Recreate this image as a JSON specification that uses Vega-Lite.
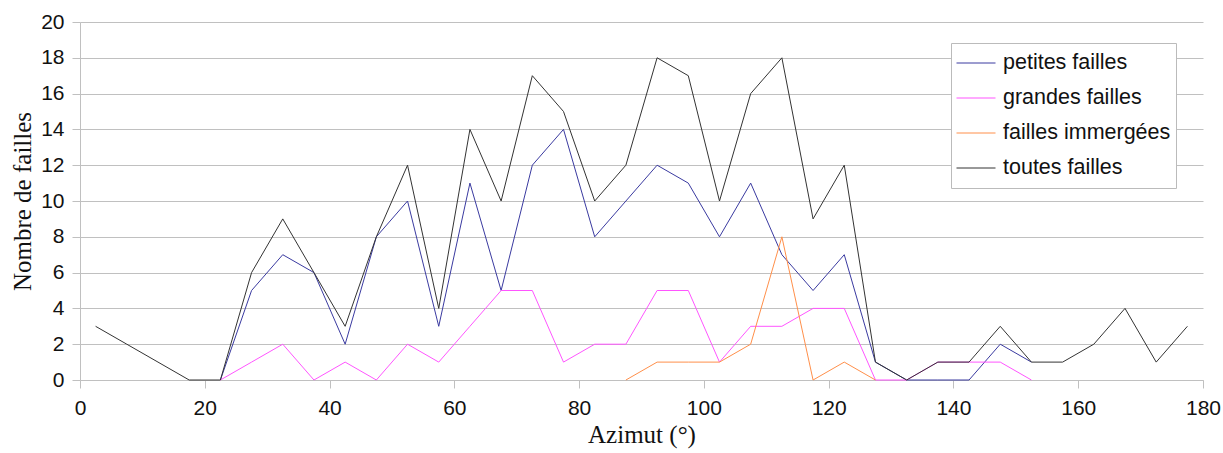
{
  "$schema": "https://vega.github.io/schema/vega-lite/v6.json",
  "autosize": {"type": "none"},
  "width": 1123,
  "height": 358,
  "padding": {"left": 80, "top": 22, "right": 20, "bottom": 73},
  "background": "white",
  "config": {
    "view": {"stroke": null},
    "axis": {
      "labelFont": "Liberation Sans",
      "labelFontSize": 21,
      "labelColor": "#111111",
      "titleFont": "Liberation Serif",
      "titleFontSize": 25,
      "titleFontWeight": "normal",
      "titleColor": "#111111",
      "domainColor": "#c0c0c0",
      "tickColor": "#c0c0c0",
      "gridColor": "#c0c0c0",
      "tickSize": 8,
      "labelPadding": 9,
      "labelFlush": false,
      "labelOverlap": false
    }
  },
  "data": {
    "values": [
      {"azimut": 22.5, "serie": "petites failles", "n": 0},
      {"azimut": 27.5, "serie": "petites failles", "n": 5},
      {"azimut": 32.5, "serie": "petites failles", "n": 7},
      {"azimut": 37.5, "serie": "petites failles", "n": 6},
      {"azimut": 42.5, "serie": "petites failles", "n": 2},
      {"azimut": 47.5, "serie": "petites failles", "n": 8},
      {"azimut": 52.5, "serie": "petites failles", "n": 10},
      {"azimut": 57.5, "serie": "petites failles", "n": 3},
      {"azimut": 62.5, "serie": "petites failles", "n": 11},
      {"azimut": 67.5, "serie": "petites failles", "n": 5},
      {"azimut": 72.5, "serie": "petites failles", "n": 12},
      {"azimut": 77.5, "serie": "petites failles", "n": 14},
      {"azimut": 82.5, "serie": "petites failles", "n": 8},
      {"azimut": 87.5, "serie": "petites failles", "n": 10},
      {"azimut": 92.5, "serie": "petites failles", "n": 12},
      {"azimut": 97.5, "serie": "petites failles", "n": 11},
      {"azimut": 102.5, "serie": "petites failles", "n": 8},
      {"azimut": 107.5, "serie": "petites failles", "n": 11},
      {"azimut": 112.5, "serie": "petites failles", "n": 7},
      {"azimut": 117.5, "serie": "petites failles", "n": 5},
      {"azimut": 122.5, "serie": "petites failles", "n": 7},
      {"azimut": 127.5, "serie": "petites failles", "n": 1},
      {"azimut": 132.5, "serie": "petites failles", "n": 0},
      {"azimut": 137.5, "serie": "petites failles", "n": 0},
      {"azimut": 142.5, "serie": "petites failles", "n": 0},
      {"azimut": 147.5, "serie": "petites failles", "n": 2},
      {"azimut": 152.5, "serie": "petites failles", "n": 1},
      {"azimut": 22.5, "serie": "grandes failles", "n": 0},
      {"azimut": 27.5, "serie": "grandes failles", "n": 1},
      {"azimut": 32.5, "serie": "grandes failles", "n": 2},
      {"azimut": 37.5, "serie": "grandes failles", "n": 0},
      {"azimut": 42.5, "serie": "grandes failles", "n": 1},
      {"azimut": 47.5, "serie": "grandes failles", "n": 0},
      {"azimut": 52.5, "serie": "grandes failles", "n": 2},
      {"azimut": 57.5, "serie": "grandes failles", "n": 1},
      {"azimut": 62.5, "serie": "grandes failles", "n": 3},
      {"azimut": 67.5, "serie": "grandes failles", "n": 5},
      {"azimut": 72.5, "serie": "grandes failles", "n": 5},
      {"azimut": 77.5, "serie": "grandes failles", "n": 1},
      {"azimut": 82.5, "serie": "grandes failles", "n": 2},
      {"azimut": 87.5, "serie": "grandes failles", "n": 2},
      {"azimut": 92.5, "serie": "grandes failles", "n": 5},
      {"azimut": 97.5, "serie": "grandes failles", "n": 5},
      {"azimut": 102.5, "serie": "grandes failles", "n": 1},
      {"azimut": 107.5, "serie": "grandes failles", "n": 3},
      {"azimut": 112.5, "serie": "grandes failles", "n": 3},
      {"azimut": 117.5, "serie": "grandes failles", "n": 4},
      {"azimut": 122.5, "serie": "grandes failles", "n": 4},
      {"azimut": 127.5, "serie": "grandes failles", "n": 0},
      {"azimut": 132.5, "serie": "grandes failles", "n": 0},
      {"azimut": 137.5, "serie": "grandes failles", "n": 1},
      {"azimut": 142.5, "serie": "grandes failles", "n": 1},
      {"azimut": 147.5, "serie": "grandes failles", "n": 1},
      {"azimut": 152.5, "serie": "grandes failles", "n": 0},
      {"azimut": 87.5, "serie": "failles immergées", "n": 0},
      {"azimut": 92.5, "serie": "failles immergées", "n": 1},
      {"azimut": 97.5, "serie": "failles immergées", "n": 1},
      {"azimut": 102.5, "serie": "failles immergées", "n": 1},
      {"azimut": 107.5, "serie": "failles immergées", "n": 2},
      {"azimut": 112.5, "serie": "failles immergées", "n": 8},
      {"azimut": 117.5, "serie": "failles immergées", "n": 0},
      {"azimut": 122.5, "serie": "failles immergées", "n": 1},
      {"azimut": 127.5, "serie": "failles immergées", "n": 0},
      {"azimut": 2.5, "serie": "toutes failles", "n": 3},
      {"azimut": 7.5, "serie": "toutes failles", "n": 2},
      {"azimut": 12.5, "serie": "toutes failles", "n": 1},
      {"azimut": 17.5, "serie": "toutes failles", "n": 0},
      {"azimut": 22.5, "serie": "toutes failles", "n": 0},
      {"azimut": 27.5, "serie": "toutes failles", "n": 6},
      {"azimut": 32.5, "serie": "toutes failles", "n": 9},
      {"azimut": 37.5, "serie": "toutes failles", "n": 6},
      {"azimut": 42.5, "serie": "toutes failles", "n": 3},
      {"azimut": 47.5, "serie": "toutes failles", "n": 8},
      {"azimut": 52.5, "serie": "toutes failles", "n": 12},
      {"azimut": 57.5, "serie": "toutes failles", "n": 4},
      {"azimut": 62.5, "serie": "toutes failles", "n": 14},
      {"azimut": 67.5, "serie": "toutes failles", "n": 10},
      {"azimut": 72.5, "serie": "toutes failles", "n": 17},
      {"azimut": 77.5, "serie": "toutes failles", "n": 15},
      {"azimut": 82.5, "serie": "toutes failles", "n": 10},
      {"azimut": 87.5, "serie": "toutes failles", "n": 12},
      {"azimut": 92.5, "serie": "toutes failles", "n": 18},
      {"azimut": 97.5, "serie": "toutes failles", "n": 17},
      {"azimut": 102.5, "serie": "toutes failles", "n": 10},
      {"azimut": 107.5, "serie": "toutes failles", "n": 16},
      {"azimut": 112.5, "serie": "toutes failles", "n": 18},
      {"azimut": 117.5, "serie": "toutes failles", "n": 9},
      {"azimut": 122.5, "serie": "toutes failles", "n": 12},
      {"azimut": 127.5, "serie": "toutes failles", "n": 1},
      {"azimut": 132.5, "serie": "toutes failles", "n": 0},
      {"azimut": 137.5, "serie": "toutes failles", "n": 1},
      {"azimut": 142.5, "serie": "toutes failles", "n": 1},
      {"azimut": 147.5, "serie": "toutes failles", "n": 3},
      {"azimut": 152.5, "serie": "toutes failles", "n": 1},
      {"azimut": 157.5, "serie": "toutes failles", "n": 1},
      {"azimut": 162.5, "serie": "toutes failles", "n": 2},
      {"azimut": 167.5, "serie": "toutes failles", "n": 4},
      {"azimut": 172.5, "serie": "toutes failles", "n": 1},
      {"azimut": 177.5, "serie": "toutes failles", "n": 3}
    ]
  },
  "mark": {"type": "line", "strokeWidth": 1, "interpolate": "linear"},
  "encoding": {
    "x": {
      "field": "azimut",
      "type": "quantitative",
      "title": "Azimut (°)",
      "scale": {"domain": [0, 180], "nice": false, "zero": false},
      "axis": {
        "values": [0, 20, 40, 60, 80, 100, 120, 140, 160, 180],
        "grid": false,
        "domain": true,
        "titlePadding": 4
      }
    },
    "y": {
      "field": "n",
      "type": "quantitative",
      "title": "Nombre de failles",
      "scale": {"domain": [0, 20], "nice": false},
      "axis": {
        "values": [0, 2, 4, 6, 8, 10, 12, 14, 16, 18, 20],
        "grid": true,
        "domain": true,
        "labelPadding": 8,
        "titlePadding": 5
      }
    },
    "color": {
      "field": "serie",
      "type": "nominal",
      "sort": ["petites failles", "grandes failles", "failles immergées", "toutes failles"],
      "scale": {
        "domain": ["petites failles", "grandes failles", "failles immergées", "toutes failles"],
        "range": ["#3a3aa0", "#ff55ff", "#ff8f4a", "#333333"]
      },
      "legend": {
        "title": null,
        "orient": "none",
        "legendX": 871,
        "legendY": 21,
        "strokeColor": "#bbbbbb",
        "fillColor": "white",
        "padding": 5,
        "symbolType": "stroke",
        "symbolSize": 1521,
        "symbolStrokeWidth": 1,
        "labelFont": "Liberation Sans",
        "labelFontSize": 21.5,
        "labelColor": "#111111",
        "labelOffset": 7,
        "rowPadding": 5,
        "clipHeight": 30,
        "labelLimit": 300
      }
    },
    "order": {"field": "azimut", "type": "quantitative"}
  }
}
